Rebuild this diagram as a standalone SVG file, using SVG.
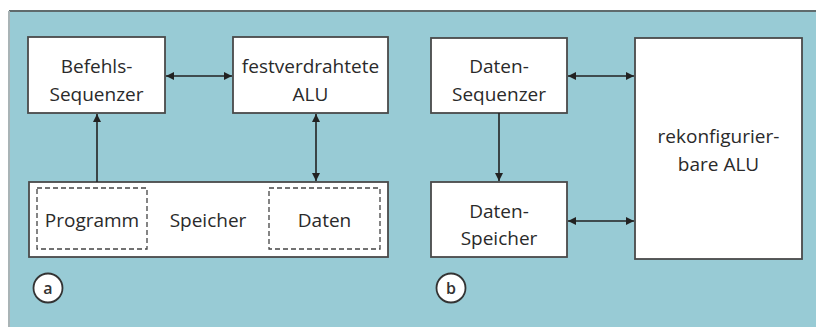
<svg xmlns="http://www.w3.org/2000/svg" width="816" height="327" viewBox="0 0 816 327">
  <defs>
    <marker id="ah" viewBox="0 0 10 10" refX="10" refY="5" markerWidth="8" markerHeight="8" markerUnits="userSpaceOnUse" orient="auto-start-reverse">
      <path d="M0,0 L10,5 L0,10 z" fill="#222"/>
    </marker>
    <style>
      .box { fill: #fff; stroke: #4a4a4a; stroke-width: 1.8; }
      .dash { fill: none; stroke: #444; stroke-width: 1.3; stroke-dasharray: 5 3; }
      .lbl { font-family: "Open Sans", "Noto Sans", "DejaVu Sans", sans-serif; font-size: 19px; fill: #2a2a2a; text-anchor: middle; }
      .tag { fill: #fff; stroke: #333; stroke-width: 1.8; }
      .tagt { font-family: "Open Sans", "Noto Sans", sans-serif; font-size: 16px; font-weight: 600; fill: #333; text-anchor: middle; }
      .con { stroke: #222; stroke-width: 1.6; fill: none; }
    </style>
  </defs>

  <!-- panel background -->
  <rect x="0" y="0" width="816" height="327" fill="#fff"/>
  <rect x="9" y="11" width="807" height="316" fill="#98cbd5"/>
  <line x1="9" y1="11" x2="816" y2="11" stroke="#5f6b6d" stroke-width="2"/>
  <line x1="9" y1="11" x2="9" y2="327" stroke="#a9b4b6" stroke-width="2"/>

  <!-- (a) hard-wired architecture -->
  <g id="befehls-sequenzer">
    <rect class="box" x="28" y="37" width="137" height="76"/>
    <text class="lbl" x="96.5" y="73">Befehls-</text>
    <text class="lbl" x="96.5" y="101">Sequenzer</text>
  </g>
  <g id="festverdrahtete-alu">
    <rect class="box" x="233" y="37" width="155" height="76"/>
    <text class="lbl" x="310.5" y="73">festverdrahtete</text>
    <text class="lbl" x="310.5" y="101">ALU</text>
  </g>
  <g id="speicher">
    <rect class="box" x="29" y="182" width="359" height="75"/>
    <rect class="dash" x="37" y="188" width="110" height="61"/>
    <rect class="dash" x="269" y="188" width="111" height="61"/>
    <text class="lbl" x="92" y="227">Programm</text>
    <text class="lbl" x="208" y="227">Speicher</text>
    <text class="lbl" x="324.5" y="227">Daten</text>
  </g>
  <g id="label-a">
    <circle class="tag" cx="48" cy="288" r="14.5"/>
    <text class="tagt" x="48" y="293.5">a</text>
  </g>

  <!-- (b) reconfigurable architecture -->
  <g id="daten-sequenzer">
    <rect class="box" x="431" y="38" width="136" height="75"/>
    <text class="lbl" x="499" y="73">Daten-</text>
    <text class="lbl" x="499" y="101">Sequenzer</text>
  </g>
  <g id="daten-speicher">
    <rect class="box" x="431" y="182" width="136" height="75"/>
    <text class="lbl" x="499" y="218">Daten-</text>
    <text class="lbl" x="499" y="245">Speicher</text>
  </g>
  <g id="rekonfigurierbare-alu">
    <rect class="box" x="635" y="38" width="167" height="221"/>
    <text class="lbl" x="718.5" y="143">rekonfigurier-</text>
    <text class="lbl" x="718.5" y="171">bare ALU</text>
  </g>
  <g id="label-b">
    <circle class="tag" cx="451" cy="288" r="14.5"/>
    <text class="tagt" x="451" y="293.5">b</text>
  </g>

  <!-- connectors -->
  <g id="connectors">
    <line class="con" x1="166" y1="76" x2="232" y2="76" marker-start="url(#ah)" marker-end="url(#ah)"/>
    <line class="con" x1="97" y1="182" x2="97" y2="114" marker-end="url(#ah)"/>
    <line class="con" x1="316" y1="114" x2="316" y2="181" marker-start="url(#ah)" marker-end="url(#ah)"/>
    <line class="con" x1="568" y1="76" x2="634" y2="76" marker-start="url(#ah)" marker-end="url(#ah)"/>
    <line class="con" x1="568" y1="221" x2="634" y2="221" marker-start="url(#ah)" marker-end="url(#ah)"/>
    <line class="con" x1="499" y1="113" x2="499" y2="181" marker-end="url(#ah)"/>
  </g>
</svg>
